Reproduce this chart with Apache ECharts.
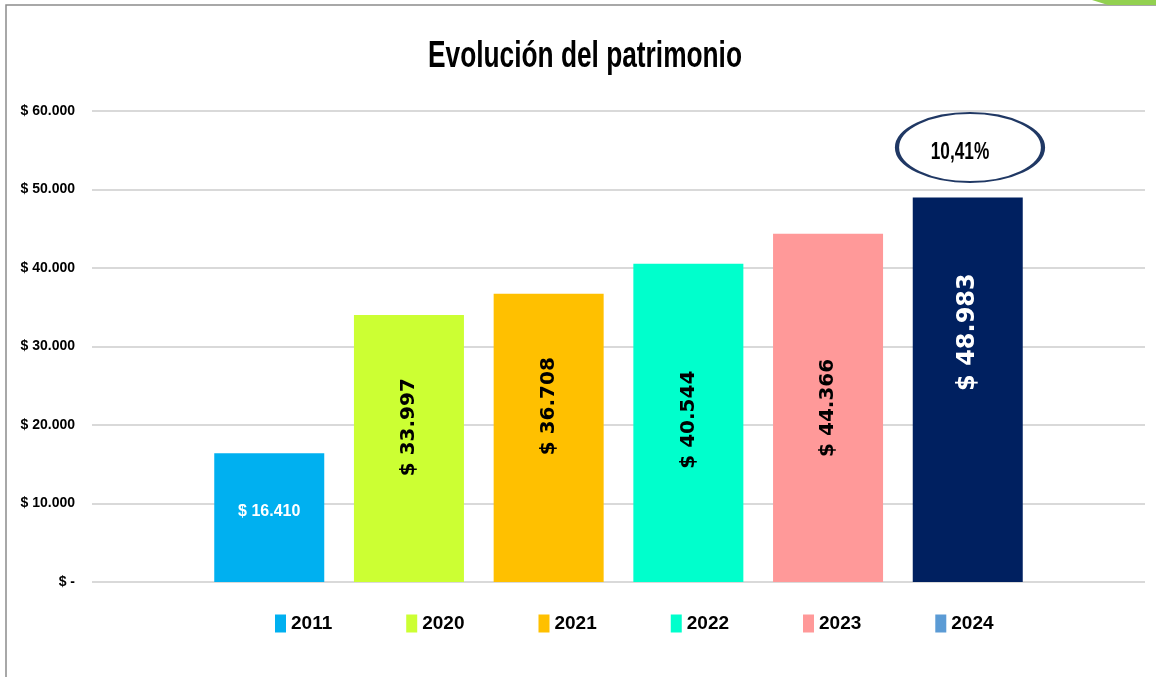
<!DOCTYPE html>
<html lang="es">
<head>
  <meta charset="UTF-8">
  <title>Evolución del patrimonio</title>
  <script src="https://cdn.jsdelivr.net/npm/echarts@6/dist/echarts.min.js"></script>
  <style>
    html, body { margin: 0; padding: 0; background: #fff; }
    #main { width: 1156px; height: 677px; }
  </style>
</head>
<body>
<div id="main"></div>
<script>
  // datos
  var years = ['2011', '2020', '2021', '2022', '2023', '2024'];
  var values = [16410, 33997, 36708, 40544, 44366, 48983];
  var barColors = ['#00B0F0', '#CCFF33', '#FFC000', '#00FFCC', '#FF9999', '#002060'];
  var legendColors = ['#00B0F0', '#CCFF33', '#FFC000', '#00FFCC', '#FF9999', '#5B9BD5'];
  var yTicks = [0, 10000, 20000, 30000, 40000, 50000, 60000];
  var titleText = 'Evolución del patrimonio';
  var growthText = '10,41%';

  var narrow = "'Liberation Sans', Arial, sans-serif";
  var wide = "'DejaVu Sans', Verdana, sans-serif";

  // estilo de etiqueta por barra
  var labelStyles = [
    {rotate: 0, pos: ['50%', '45%'], color: '#fff', size: 16, font: narrow},
    {rotate: 90, pos: ['50%', '42%'], color: '#000', size: 20, font: wide},
    {rotate: 90, pos: ['50%', '39%'], color: '#000', size: 20, font: wide},
    {rotate: 90, pos: ['50%', '49%'], color: '#000', size: 20, font: wide},
    {rotate: 90, pos: ['50%', '50%'], color: '#000', size: 20, font: wide},
    {rotate: 90, pos: ['50%', '35%'], color: '#fff', size: 24, font: wide}
  ];

  function money(v) {
    if (v === 0) return '$ -';
    return '$ ' + String(v).replace(/\B(?=(\d{3})+(?!\d))/g, '.');
  }

  var series = years.map(function (y, i) {
    var ls = labelStyles[i];
    return {
      name: y,
      type: 'bar',
      barWidth: 110,
      barGap: '27%',
      itemStyle: {color: barColors[i]},
      label: {
        show: true,
        position: ls.pos,
        rotate: ls.rotate,
        align: 'center',
        verticalAlign: 'middle',
        color: ls.color,
        fontSize: ls.size,
        fontWeight: 'bold',
        fontFamily: ls.font,
        formatter: function (p) { return money(p.value); }
      },
      data: [values[i]]
    };
  });

  var chart = echarts.init(document.getElementById('main'));
  var option = {
    animation: false,
    legend: {
      left: 270,
      top: 609,
      itemWidth: 11,
      itemHeight: 18,
      itemGap: 74,
      icon: 'rect',
      textStyle: {fontSize: 19, fontWeight: 'bold', color: '#000', fontFamily: narrow},
      data: years.map(function (y, i) {
        return {name: y, itemStyle: {color: legendColors[i]}};
      })
    },
    grid: {left: 92, right: 11, top: 111, bottom: 95},
    xAxis: {
      type: 'category',
      data: [''],
      axisLine: {show: false},
      axisTick: {show: false},
      axisLabel: {show: false}
    },
    yAxis: {
      type: 'value',
      min: yTicks[0],
      max: yTicks[yTicks.length - 1],
      interval: yTicks[1] - yTicks[0],
      axisLine: {show: false},
      axisTick: {show: false},
      splitLine: {lineStyle: {color: '#D9D9D9', width: 2}},
      axisLabel: {
        margin: 17,
        color: '#000',
        fontSize: 14,
        fontWeight: 'bold',
        fontFamily: narrow,
        formatter: money
      }
    },
    graphic: [
      {
        type: 'rect',
        silent: true,
        shape: {x: 6, y: 5, width: 1300, height: 800},
        style: {fill: 'none', stroke: '#8C8C8C', lineWidth: 1.5}
      },
      {
        type: 'polygon',
        silent: true,
        shape: {points: [[1092, 0], [1156, 0], [1156, 5], [1108, 5]]},
        style: {fill: '#92D050'}
      },
      {
        // titulo (texto estrecho como en el original)
        type: 'text',
        silent: true,
        x: 585,
        y: 57,
        scaleX: 0.73,
        style: {
          text: titleText,
          align: 'center',
          verticalAlign: 'middle',
          fill: '#000',
          font: 'bold 36px ' + narrow
        }
      },
      {
        type: 'circle',
        silent: true,
        x: 970,
        y: 147.5,
        scaleX: 73 / 34.5,
        shape: {cx: 0, cy: 0, r: 34.5},
        style: {fill: '#fff', stroke: '#203864', lineWidth: 2, strokeNoScale: true}
      },
      {
        type: 'text',
        silent: true,
        x: 960,
        y: 153,
        scaleX: 0.75,
        style: {
          text: growthText,
          align: 'center',
          verticalAlign: 'middle',
          fill: '#000',
          font: 'bold 23px ' + narrow
        }
      }
    ],
    series: series
  };

  option && chart.setOption(option);
</script>
</body>
</html>
